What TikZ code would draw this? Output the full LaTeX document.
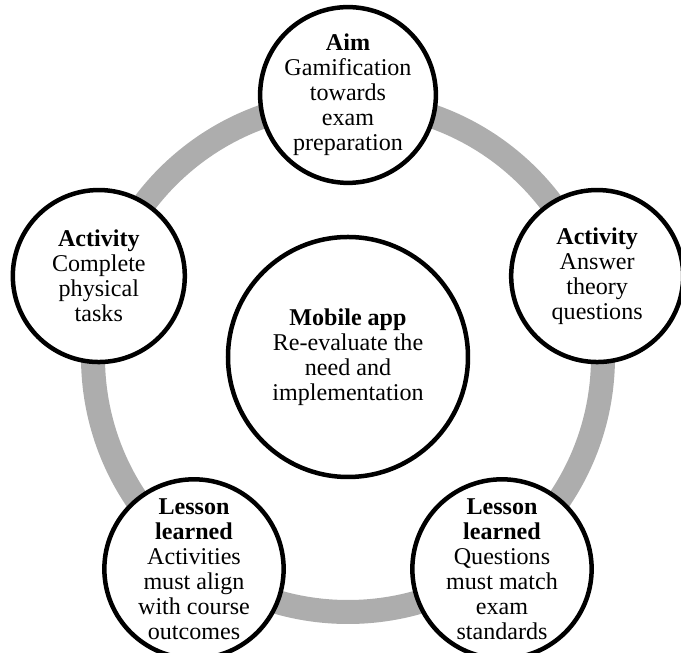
\documentclass[tikz,border=0pt]{standalone}
\usepackage{fontspec}
\setmainfont{Liberation Serif}
\definecolor{ringgray}{RGB}{173,173,173}

\begin{document}
\begin{tikzpicture}[font=\fontsize{13.7}{14.2}\selectfont]
  \tikzstyle{petal}=[circle, draw=black, fill=white, line width=0.09cm, minimum size=3.44cm, inner sep=0pt, align=center]
  \tikzstyle{hub}=[petal, minimum size=4.8cm]
  \tikzstyle{ring}=[draw=ringgray, line width=0.48cm]

  \useasboundingbox (-6.96,-5.92) rectangle (6.66,7.14);

  % centre and the grey cycle behind the outer circles
  \node[hub] (app) at (0,0) {\textbf{Mobile app}\\Re-evaluate the\\need and\\implementation};
  \draw[ring] (app.center) circle (5.1);

  \node[petal] (aim)      at (90:5.24)   {\textbf{Aim}\\Gamification\\towards\\exam\\preparation};
  \node[petal] (theory)   at (18:5.24)   {\textbf{Activity}\\Answer\\theory\\questions};
  \node[petal] (qlesson)  at (-54:5.24)  {\textbf{Lesson}\\\textbf{learned}\\Questions\\must match\\exam\\standards};
  \node[petal] (alesson)  at (-126:5.24) {\textbf{Lesson}\\\textbf{learned}\\Activities\\must align\\with course\\outcomes};
  \node[petal] (physical) at (162:5.24)  {\textbf{Activity}\\Complete\\physical\\tasks};
\end{tikzpicture}
\end{document}
